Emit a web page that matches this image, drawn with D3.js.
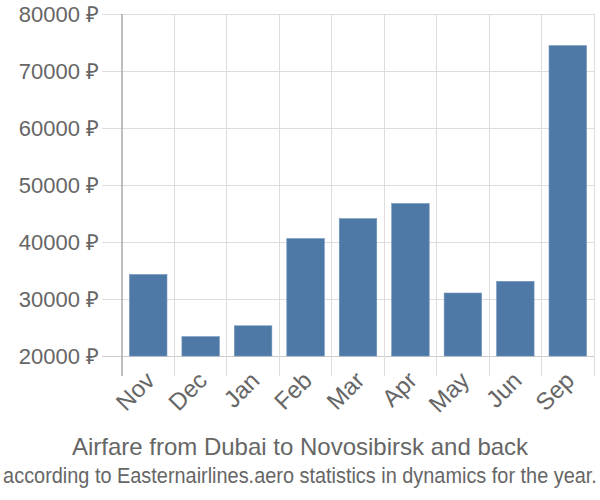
<!DOCTYPE html>
<html><head><meta charset="utf-8">
<script src="https://cdn.jsdelivr.net/npm/d3@7"></script>
<style>body{margin:0;background:#fff}svg{display:block}</style>
</head><body>
<script>
const categories = ["Nov","Dec","Jan","Feb","Mar","Apr","May","Jun","Sep"];
const values = [34300, 23400, 25300, 40600, 44100, 46750, 31050, 33100, 74450];
const yTicks = [20000, 30000, 40000, 50000, 60000, 70000, 80000];
const title = "Airfare from Dubai to Novosibirsk and back";
const subtitle = "according to Easternairlines.aero statistics in dynamics for the year.";

const W = 600, H = 500;
const m = {left: 122, right: 6, top: 14, bottom: 144};
const svg = d3.select("body").append("svg").attr("width", W).attr("height", H);
const font = "'Liberation Sans', Arial, sans-serif";

const x = d3.scaleBand().domain(categories).range([m.left, W - m.right]).paddingInner(0.285).paddingOuter(0.1425);
const y = d3.scaleLinear().domain([20000, 80000]).range([H - m.bottom, m.top]);

// horizontal grid + tick marks
svg.append("g").selectAll("line").data(yTicks).join("line")
  .attr("x1", m.left - 20).attr("x2", W - m.right)
  .attr("y1", d => y(d)).attr("y2", d => y(d))
  .attr("stroke", d => d === 20000 ? "#ccc" : "#ddd").attr("stroke-width", 1)
  .attr("shape-rendering", "crispEdges");

// vertical grid lines at band boundaries
const bounds = categories.map(c => x(c) - x.step() * x.paddingInner() / 2).concat([W - m.right]);
svg.append("g").selectAll("line").data(bounds.slice(1)).join("line")
  .attr("x1", d => d).attr("x2", d => d)
  .attr("y1", m.top).attr("y2", H - m.bottom + 20)
  .attr("stroke", "#ddd").attr("stroke-width", 1)
  .attr("shape-rendering", "crispEdges");

// left axis line
svg.append("line").attr("x1", m.left).attr("x2", m.left)
  .attr("y1", m.top).attr("y2", H - m.bottom + 20)
  .attr("stroke", "#aaa").attr("stroke-width", 1.5);

// bars
svg.append("g").selectAll("rect").data(values).join("rect")
  .attr("x", (d, i) => x(categories[i]))
  .attr("width", x.bandwidth())
  .attr("y", d => y(d))
  .attr("height", d => y(20000) - y(d))
  .attr("fill", "#4e79a7")
  .attr("stroke", "#6f93bb").attr("stroke-width", 0.6);

// y labels
svg.append("g").selectAll("text").data(yTicks).join("text")
  .attr("x", m.left - 23).attr("y", d => y(d)).attr("dy", "0.35em")
  .attr("text-anchor", "end")
  .attr("font-family", font).attr("font-size", 22).attr("fill", "#666")
  .text(d => d + " ₽");

// x labels
svg.append("g").selectAll("text").data(categories).join("text")
  .attr("transform", d => `translate(${x(d) + x.bandwidth() / 2 + 2},${H - m.bottom + 20}) rotate(-45)`)
  .attr("text-anchor", "end")
  .attr("font-family", font).attr("font-size", 24).attr("fill", "#666")
  .attr("dy", "0.35em")
  .text(d => d);

svg.append("text").attr("x", 300).attr("y", 455).attr("text-anchor", "middle")
  .attr("font-family", font).attr("font-size", 24).attr("fill", "#666").text(title);
const sub = svg.append("text").attr("x", 0).attr("y", 0).attr("text-anchor", "middle")
  .attr("font-family", font).attr("font-size", 22).attr("fill", "#666").text(subtitle);
const natural = sub.node().getComputedTextLength();
const sx = Math.min(1, 594 / natural);
sub.attr("transform", `translate(300,483) scale(${sx},1)`);
</script>
</body></html>
